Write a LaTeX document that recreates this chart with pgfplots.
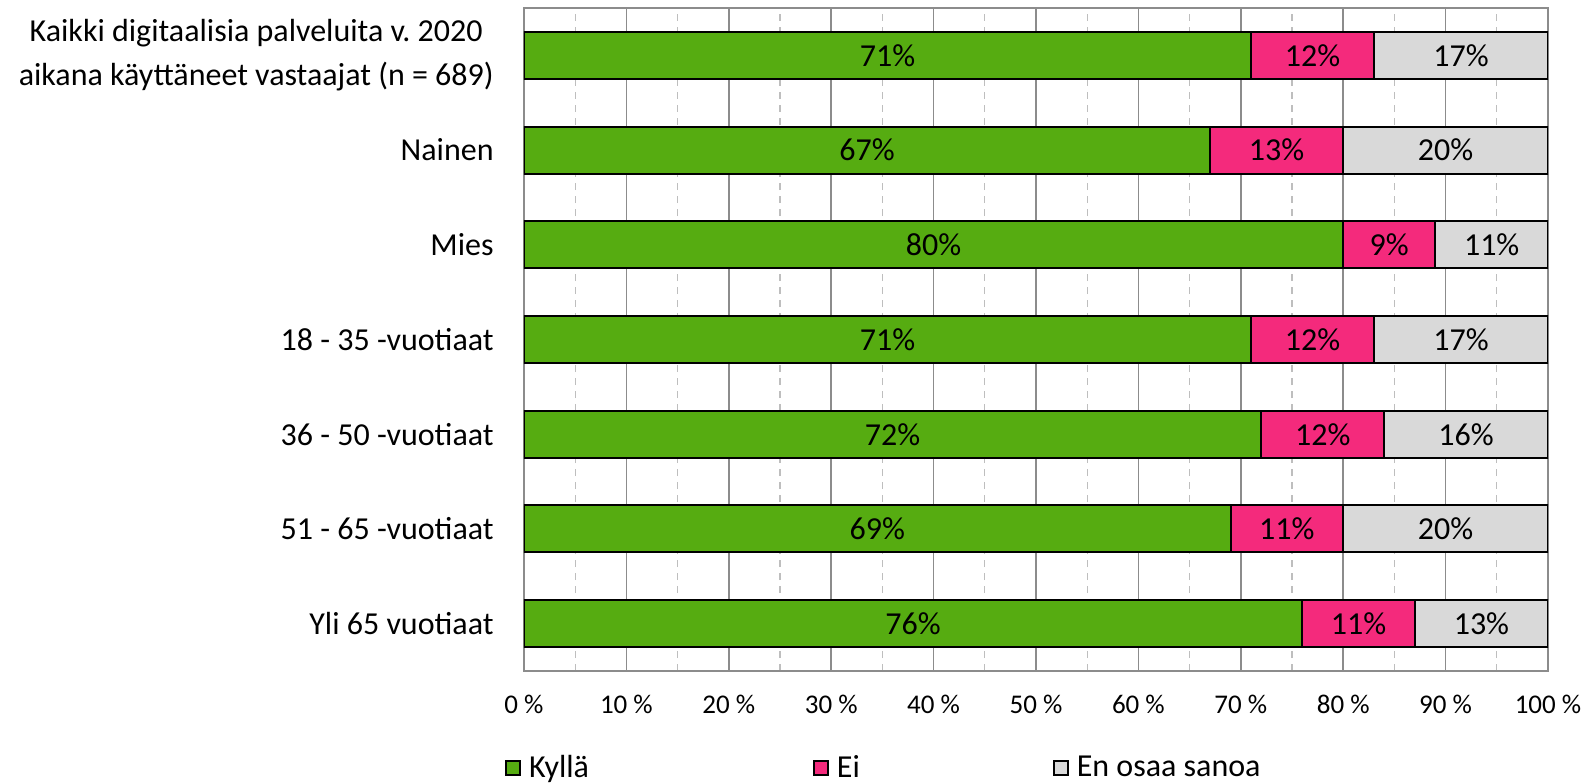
\documentclass[border=0pt]{standalone}
\usepackage{pgfplots}
\pgfplotsset{compat=1.18}
\usepackage{pgfplotstable}
\usepackage{fontspec}
\setmainfont{Carlito}
\frenchspacing
\definecolor{cgreen}{RGB}{86,172,17}
\definecolor{cpink}{RGB}{244,42,124}
\definecolor{cgray}{RGB}{217,217,217}
\definecolor{gridmaj}{RGB}{140,140,140}
\definecolor{gridmin}{RGB}{190,190,190}

\pgfplotstableread{
y k e s
6 71 12 17
5 67 13 20
4 80 9 11
3 71 12 17
2 72 12 16
1 69 11 20
0 76 11 13
}\data

\pgfplotsset{
  segstyle/.style={
    draw=black, line width=1pt,
    legend image code/.code={\draw[##1,draw=black,line width=0.9pt] (0pt,-3.5pt) rectangle (7pt,3.5pt);},
    point meta=explicit symbolic,
    nodes near coords={\pgfplotspointmeta\%},
    every node near coord/.append style={anchor=center, text=black, font=\fontsize{16}{19}\selectfont},
  },
}

\begin{document}
\begin{tikzpicture}
\path[use as bounding box] (-262pt,-56pt) rectangle (535.5pt,335.5pt);
\begin{axis}[
  at={(0,0)}, anchor=south west,
  scale only axis, width=512pt, height=331.5pt,
  xbar stacked, bar width=23.5pt,
  xmin=0, xmax=100, ymin=-0.5, ymax=6.5,
  xtick={0,10,...,100}, minor xtick={5,15,...,95},
  ytick={0,...,6},
  yticklabels={Yli 65 vuotiaat, 51 - 65 -vuotiaat, 36 - 50 -vuotiaat, 18 - 35 -vuotiaat, Mies, Nainen, {Kaikki digitaalisia palveluita v. 2020\\aikana käyttäneet vastaajat (n = 689)}},
  yticklabel style={align=center, anchor=east, inner sep=0pt, xshift=-15pt, font=\fontsize{16}{22}\selectfont},
  /pgf/number format/assume math mode=true,
  xticklabel={\pgfmathprintnumber{\tick}~\%},
  xticklabel style={anchor=north, inner sep=0pt, yshift=-12pt, font=\fontsize{13.5}{15}\selectfont},
  xmajorgrids, xminorgrids,
  major grid style={gridmaj, line width=0.75pt},
  minor grid style={gridmin, line width=0.6pt, dash pattern=on 3.5pt off 3pt},
  axis line style={gridmaj, line width=0.75pt},
  major tick length=0pt, minor tick length=0pt,
  legend columns=3,
  legend style={at={(-0.01855,-0.1463)}, anchor=west, draw=none, fill=none, inner sep=0pt,
    font=\fontsize{16}{19}\selectfont,
    /tikz/every even column/.style={column sep=0pt},
    nodes={inner sep=0pt}},
  legend cell align=left,
]
\addplot[segstyle, fill=cgreen] table[x=k, y=y, meta=k] {\data};
\addlegendentry{\makebox[146pt][l]{\hspace{4pt}Kyllä}}
\addplot[segstyle, fill=cpink] table[x=e, y=y, meta=e] {\data};
\addlegendentry{\makebox[112pt][l]{\hspace{4pt}Ei}}
\addplot[segstyle, fill=cgray] table[x=s, y=y, meta=s] {\data};
\addlegendentry{\makebox[100pt][l]{\hspace{4pt}En osaa sanoa}}
\end{axis}
\end{tikzpicture}
\end{document}
